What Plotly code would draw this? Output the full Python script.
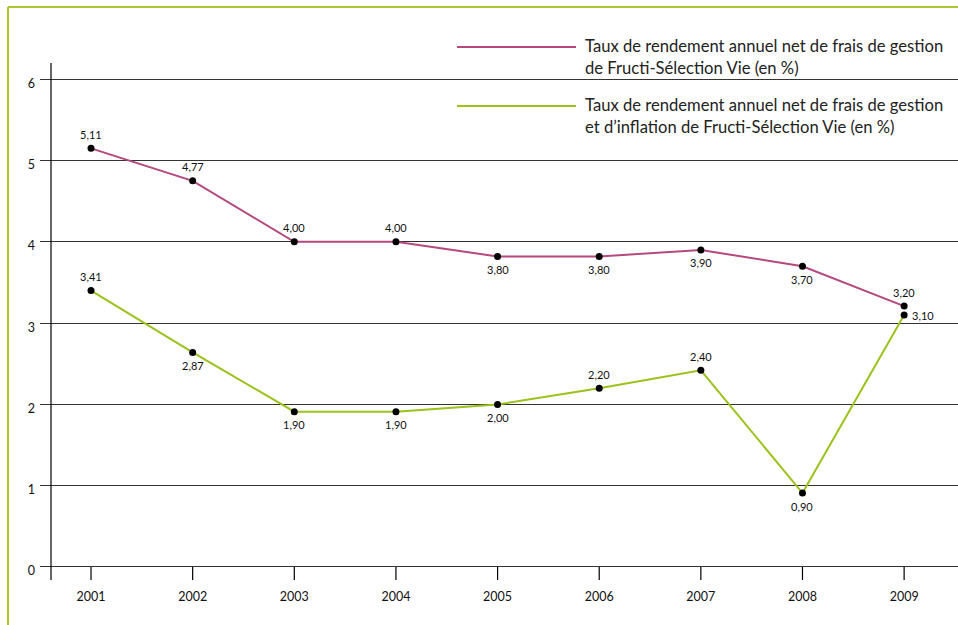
import plotly.graph_objects as go

years = [2001, 2002, 2003, 2004, 2005, 2006, 2007, 2008, 2009]

# Series 1: net of management fees (plotted heights as drawn, with printed labels)
net_fees = [5.15, 4.75, 4.00, 4.00, 3.82, 3.82, 3.90, 3.70, 3.21]
net_fees_labels = ["5,11", "4,77", "4,00", "4,00", "3,80", "3,80", "3,90", "3,70", "3,20"]
net_fees_pos = ["above", "above", "above", "above", "below", "below", "below", "below", "above"]

# Series 2: net of management fees and inflation
net_infl = [3.40, 2.64, 1.91, 1.91, 2.00, 2.20, 2.42, 0.91, 3.10]
net_infl_labels = ["3,41", "2,87", "1,90", "1,90", "2,00", "2,20", "2,40", "0,90", "3,10"]
net_infl_pos = ["above", "below", "below", "below", "below", "above", "above", "below", "right"]

y_ticks = [0, 1, 2, 3, 4, 5, 6]

legend_1 = "Taux de rendement annuel net de frais de gestion<br>de Fructi-Sélection Vie (en %)"
legend_2 = "Taux de rendement annuel net de frais de gestion<br>et d’inflation de Fructi-Sélection Vie (en %)"

PINK = "#b4487f"
GREEN = "#9bc21b"
BORDER = "#a9c630"
FONT = "Lato"

H_PLOT = 517.0  # plot height in px (for paper conversions)
W_PLOT = 918.0

fig = go.Figure()
for vals, col in [(net_fees, PINK), (net_infl, GREEN)]:
    fig.add_trace(go.Scatter(
        x=years, y=vals, mode="lines+markers",
        line=dict(color=col, width=2),
        marker=dict(color="black", size=7),
        showlegend=False, hoverinfo="skip",
    ))

annotations = []
for vals, labs, poss in [(net_fees, net_fees_labels, net_fees_pos),
                         (net_infl, net_infl_labels, net_infl_pos)]:
    for x, v, t, p in zip(years, vals, labs, poss):
        a = dict(x=x, y=v, xref="x", yref="y", text=t, showarrow=False,
                 font=dict(family=FONT, size=11, color="#111"))
        if p == "above":
            a["yshift"] = 14
        elif p == "below":
            a["yshift"] = -13
        else:
            a["xshift"] = 19
        annotations.append(a)

# legend (manual)
legend_rows = [(legend_1, PINK, 47, 56.5), (legend_2, GREEN, 106, 115.5)]
shapes = []
for txt, col, y_line, y_text in legend_rows:
    annotations.append(dict(
        x=(583 - 40) / W_PLOT, y=(580 - y_text) / H_PLOT, xref="paper", yref="paper",
        text=txt, showarrow=False, xanchor="left", yanchor="middle", align="left",
        font=dict(family=FONT, size=16.6, color="#222"),
    ))
    shapes.append(dict(type="line", xref="paper", yref="paper",
                       x0=(457 - 40) / W_PLOT, x1=(576 - 40) / W_PLOT,
                       y0=(580 - y_line) / H_PLOT, y1=(580 - y_line) / H_PLOT,
                       line=dict(color=col, width=2)))

# y-axis vertical line
shapes.append(dict(type="line", xref="paper", yref="paper",
                   x0=11 / W_PLOT, x1=11 / W_PLOT, y0=0, y1=1,
                   line=dict(color="black", width=1.2)))
# x tick marks below the zero line
for x in years:
    shapes.append(dict(type="line", xref="x", yref="y", x0=x, x1=x, y0=0, y1=-0.16,
                       line=dict(color="black", width=1.2)))
# green frame (left and top)
shapes.append(dict(type="line", xref="paper", yref="paper",
                   x0=-32 / W_PLOT, x1=-32 / W_PLOT, y0=-50 / H_PLOT, y1=(580 - 7) / H_PLOT,
                   line=dict(color=BORDER, width=2)))
shapes.append(dict(type="line", xref="paper", yref="paper",
                   x0=-32 / W_PLOT, x1=1.01, y0=(580 - 7) / H_PLOT, y1=(580 - 7) / H_PLOT,
                   line=dict(color=BORDER, width=2)))

fig.update_layout(
    width=958, height=625,
    margin=dict(l=40, r=0, t=63, b=45),
    plot_bgcolor="white", paper_bgcolor="white",
    font=dict(family=FONT, color="#111"),
    xaxis=dict(range=[2000.498, 2009.53], tickvals=years, ticktext=[str(y) for y in years],
               showgrid=False, zeroline=False, showline=False,
               ticks="outside", ticklen=5, tickcolor="rgba(0,0,0,0)",
               tickfont=dict(family=FONT, size=12.5, color="#111")),
    yaxis=dict(range=[-0.16, 6.2], tickvals=y_ticks, ticktext=[str(v) for v in y_ticks],
               showgrid=True, gridcolor="#333", gridwidth=1.2, zeroline=False, showline=False,
               ticklabelshift=4, ticklabelstandoff=4,
               tickfont=dict(family=FONT, size=12.5, color="#111")),
    annotations=annotations,
    shapes=shapes,
)

fig.write_html("out.html", config={"displayModeBar": False},
               post_script="document.body.style.margin='0';")
